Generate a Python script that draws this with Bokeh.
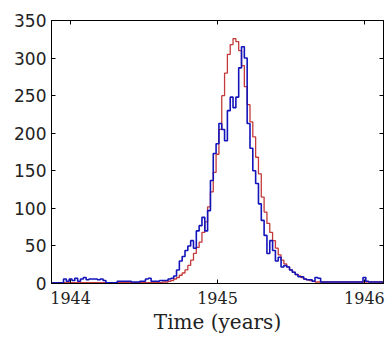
import numpy as np
from bokeh.plotting import figure
from bokeh.models import LinearAxis, FixedTicker, Range1d
from bokeh.embed import file_html
from bokeh.resources import INLINE

# weekly bins starting at first_week (years), width one week
first_week = 1943.875
week = 1.0 / 52.0

observed = [1, 1, 1, 1,
            6, 3, 6, 4, 7, 3, 6, 8, 5, 6, 6, 6, 5, 6, 4,
            1, 1, 1, 1, 3, 3, 3, 3, 3, 2, 2, 2, 3, 3,
            6, 7, 3, 3, 3, 4, 4, 4, 6, 7,
            10, 18, 30, 36, 44, 50, 57, 47, 70, 77, 88, 70, 97, 137, 173,
            186, 213, 205, 190, 230, 248, 234, 248, 287, 315, 300,
            213, 180, 150, 133, 106, 84, 64, 40, 57, 44, 30, 35, 22, 24, 22, 18, 15, 12, 9, 9, 6, 5, 5, 3, 8, 7,
            2, 2, 2, 2, 2, 2, 2, 2, 2, 2, 2, 2, 2, 2, 2, 8, 3, 2, 2, 2, 2, 2, 2]

model = [1, 1, 1, 1, 1, 1, 1, 1, 1, 1, 1, 1, 1, 1, 1, 1, 1, 1, 1, 1,
         1, 1, 1, 1, 1, 1, 1, 1, 1, 1, 1, 1, 1, 1, 1, 1, 1, 1, 1,
         2, 2, 3, 4, 6, 8, 11, 14, 18, 24, 31, 40, 48, 55, 68, 82, 102, 122, 148,
         172, 205, 250, 280, 305, 318, 326, 322, 310, 290, 262, 238, 215, 195, 168,
         146, 115, 95, 80, 68, 57, 47, 38, 31, 26, 22, 18, 15, 12, 10, 8, 6, 5, 4, 3,
         2, 2, 2, 2, 2, 2, 2, 2, 2, 2, 2, 2, 2, 2, 2, 2, 2, 2, 2, 2, 2, 2, 2, 2, 2]

x_ticks = [1944, 1945, 1946]
y_ticks = [0, 50, 100, 150, 200, 250, 300, 350]

n = len(observed)
edges = first_week + np.arange(n + 1) * week
obs_y = list(observed) + [observed[-1]]
mod_y = list(model) + [model[-1]]

p = figure(width=389, height=343, output_backend="svg", toolbar_location=None,
           x_range=Range1d(1943.87, 1946.13), y_range=Range1d(0, 350),
           min_border_left=51, min_border_right=6, min_border_top=20, min_border_bottom=60,
           x_axis_label="Time (years)")

p.step(edges, mod_y, mode="after", line_color="#c43a3a", line_width=1.3)
p.step(edges, obs_y, mode="after", line_color="#1414bb", line_width=1.6)

p.grid.visible = False
p.outline_line_color = "black"
p.outline_line_width = 1

for ax in p.xaxis:
    ax.ticker = FixedTicker(ticks=x_ticks)
    ax.major_tick_in = 4
    ax.major_tick_out = 0
    ax.minor_tick_line_color = None
    ax.major_label_text_font = "DejaVu Serif"
    ax.major_label_text_font_size = "16px"
    ax.major_label_text_color = "#222222"
    ax.major_label_standoff = 8
    ax.axis_label_text_font = "DejaVu Serif"
    ax.axis_label_text_font_style = "normal"
    ax.axis_label_text_font_size = "20px"
    ax.axis_label_text_color = "#222222"
    ax.axis_label_standoff = 3

for ax in p.yaxis:
    ax.ticker = FixedTicker(ticks=y_ticks)
    ax.major_tick_in = 4
    ax.major_tick_out = 0
    ax.minor_tick_line_color = None
    ax.major_label_text_font = "DejaVu Sans"
    ax.major_label_text_font_size = "17px"
    ax.major_label_text_color = "#222222"
    ax.major_label_standoff = 5

right = LinearAxis(ticker=FixedTicker(ticks=y_ticks), major_tick_in=4, major_tick_out=0,
                   minor_tick_line_color=None, major_label_text_font_size="0px",
                   major_label_text_color=None)
p.add_layout(right, "right")
top = LinearAxis(ticker=FixedTicker(ticks=x_ticks), major_tick_in=4, major_tick_out=0,
                 minor_tick_line_color=None, major_label_text_font_size="0px",
                 major_label_text_color=None)
p.add_layout(top, "above")

open("out.html", "w").write(file_html(p, INLINE))
